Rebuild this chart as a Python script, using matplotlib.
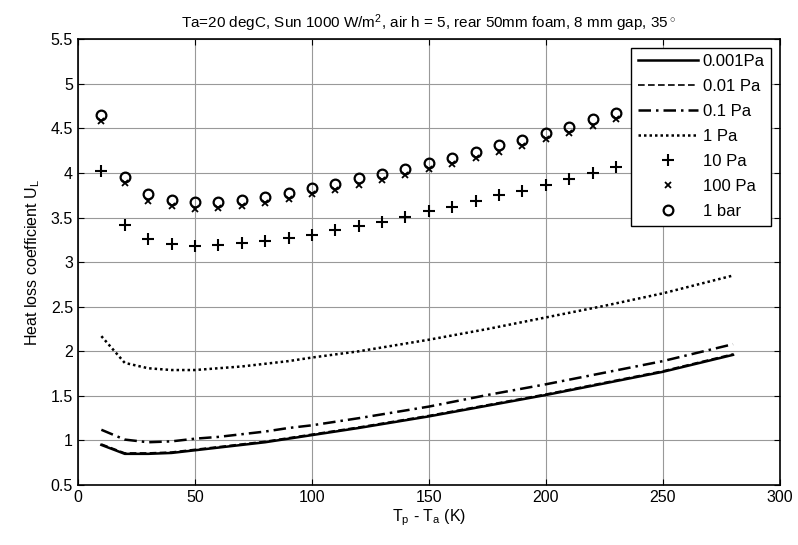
import numpy as np
import matplotlib.pyplot as plt

plt.rcParams['font.family'] = ['Liberation Sans', 'DejaVu Sans']
plt.rcParams['mathtext.fontset'] = 'custom'
plt.rcParams['mathtext.rm'] = 'Liberation Sans'
plt.rcParams['mathtext.it'] = 'Liberation Sans'

# line curves (temperature difference, K)
x_line = [10, 20, 30, 40, 50, 60, 70, 80, 90, 100, 120, 150, 175, 200, 225, 250, 280]
u_0001 = [0.95, 0.85, 0.85, 0.86, 0.89, 0.92, 0.95, 0.98, 1.02, 1.06, 1.14, 1.27, 1.39, 1.51, 1.64, 1.77, 1.96]
u_001 = [0.96, 0.86, 0.86, 0.87, 0.90, 0.93, 0.96, 0.99, 1.03, 1.07, 1.15, 1.28, 1.40, 1.52, 1.65, 1.78, 1.97]
u_01 = [1.12, 1.01, 0.98, 0.99, 1.02, 1.04, 1.07, 1.10, 1.14, 1.17, 1.25, 1.38, 1.51, 1.63, 1.76, 1.89, 2.08]
u_1 = [2.17, 1.87, 1.81, 1.79, 1.79, 1.81, 1.83, 1.86, 1.89, 1.93, 2.00, 2.13, 2.25, 2.38, 2.51, 2.65, 2.85]

# marker series
x_pts = np.arange(10, 290, 10)
u_10 = [4.02, 3.42, 3.26, 3.20, 3.18, 3.19, 3.21, 3.24, 3.27, 3.31, 3.36, 3.40, 3.45,
        3.51, 3.57, 3.62, 3.69, 3.75, 3.80, 3.87, 3.93, 4.00, 4.07, 4.14, 4.21, 4.28, 4.35, 4.43]
u_1bar = [4.65, 3.96, 3.76, 3.70, 3.67, 3.68, 3.70, 3.73, 3.78, 3.83, 3.88, 3.94, 3.99,
          4.05, 4.11, 4.17, 4.24, 4.31, 4.37, 4.45, 4.52, 4.60, 4.67, 4.75, 4.83, 4.91, 4.99, 5.07]
u_100 = [v - 0.07 for v in u_1bar]

fig = plt.figure(figsize=(7.98, 5.45), dpi=100)
ax = fig.add_axes([0.0977, 0.110, 0.8795, 0.818])

ax.plot(x_line, u_0001, 'k-', lw=1.8, label='0.001Pa')
ax.plot(x_line, u_001, 'k--', lw=1.2, dashes=(4, 2), label='0.01 Pa')
ax.plot(x_line, u_01, 'k-.', lw=1.8, dashes=(5, 2, 1, 2), label='0.1 Pa')
ax.plot(x_line, u_1, 'k:', lw=1.8, dashes=(1, 1.2), label='1 Pa')
ax.plot(x_pts, u_10, 'k+', ms=8, mew=1.5, ls='none', label='10 Pa')
ax.plot(x_pts, u_100, 'kx', ms=4, mew=1.3, ls='none', label='100 Pa')
ax.plot(x_pts, u_1bar, 'ko', ms=7, mew=1.6, mfc='none', ls='none', label='1 bar')

ax.set_xlim(0, 300)
ax.set_ylim(0.5, 5.5)
ax.set_xticks(np.arange(0, 301, 50))
ax.set_yticks(np.arange(0.5, 5.51, 0.5))
ax.set_yticklabels(['0.5', '1', '1.5', '2', '2.5', '3', '3.5', '4', '4.5', '5', '5.5'])
ax.grid(True, color='#999999', lw=0.8)
ax.tick_params(direction='in', top=True, right=True, labelsize=11.5, length=4)
for s in ax.spines.values():
    s.set_linewidth(1.2)

ax.set_title('Ta=20 degC, Sun 1000 W/m$^2$, air h = 5, rear 50mm foam, 8 mm gap, 35$^\\circ$',
             fontsize=11, pad=8)
ax.set_xlabel('T$_p$ - T$_a$ (K)', fontsize=11.5, labelpad=2)
ax.set_ylabel('Heat loss coefficient U$_L$', fontsize=11.5, labelpad=6)

leg = ax.legend(loc='upper right', fontsize=12, handlelength=3.6, fancybox=False,
                framealpha=1, edgecolor='black', borderpad=0.4, labelspacing=0.6,
                handletextpad=0.3, borderaxespad=0.5)
leg.get_frame().set_linewidth(1.0)

fig.savefig('out.png', dpi=100)
